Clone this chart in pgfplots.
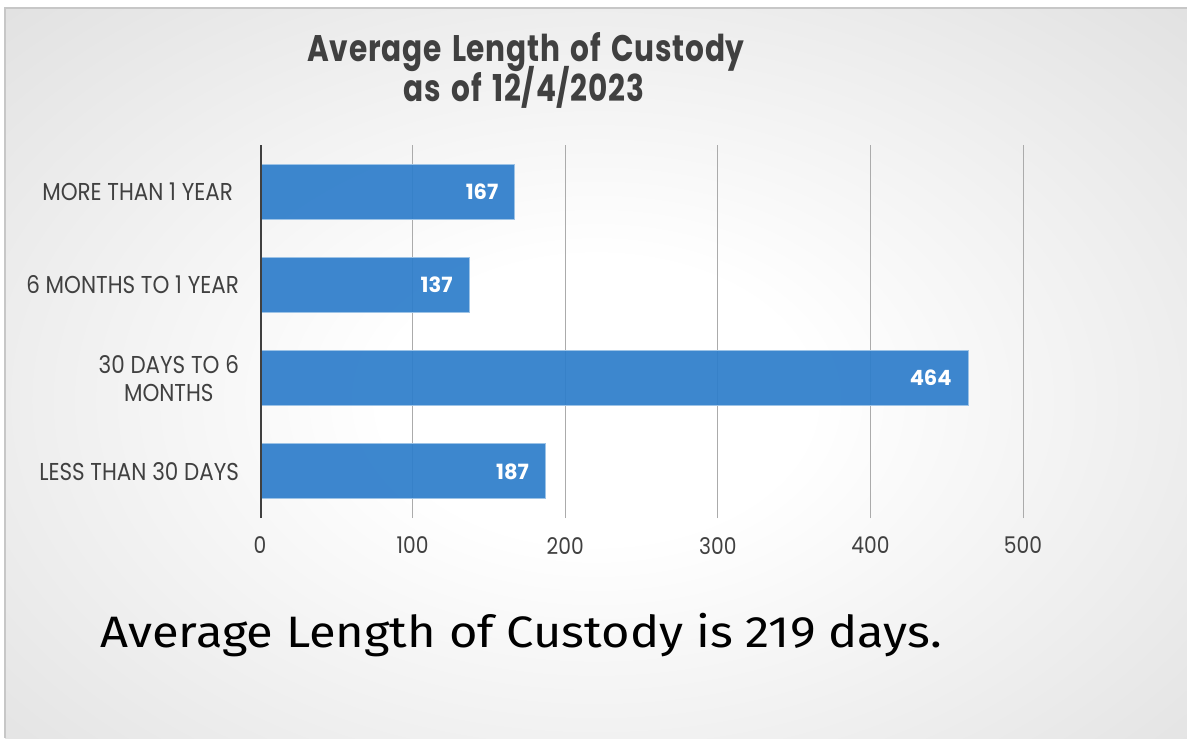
\documentclass[border=0pt]{standalone}
\usepackage{fontspec}
\setmainfont{Poppins}
\newfontfamily\twfont[FakeStretch=0.88]{Poppins}
\newfontfamily\titlefont[FakeStretch=0.8, LetterSpace=2, WordSpace=1.5]{Poppins}
\newfontfamily\notefont[FakeStretch=1.11]{Fira Sans}
\usepackage{pgfplots}
\pgfplotsset{compat=1.18}

\definecolor{barblue}{HTML}{2F7ECB}
\definecolor{baredge}{HTML}{9DC3E6}
\definecolor{txtgray}{HTML}{404040}
\definecolor{gridgray}{HTML}{ABABAB}
\pgfdeclareradialshading{panelbg}{\pgfpoint{0bp}{0bp}}{color(0bp)=(white); color(9bp)=(white); color(71bp)=(black!27)}

\begin{document}
\begin{tikzpicture}
% page and slide background
\path[use as bounding box, fill=white] (0pt,0pt) rectangle (593.5pt,-369pt);
\begin{scope}
  \clip (2.5pt,-4pt) rectangle (593.5pt,-369pt);
  \shade[shading=panelbg] (2.5pt,-4pt) rectangle (593.5pt,-396pt);
\end{scope}
\draw[black!22, line width=0.6pt] (2.5pt,-369pt) -- (2.5pt,-4pt) -- (593.5pt,-4pt);

\begin{axis}[
  at={(130pt,-259pt)}, anchor=south west,
  scale only axis, width=381.5pt, height=186.5pt,
  xbar, bar width=27.5pt,
  xmin=0, xmax=500, ymin=-0.5, ymax=3.5,
  xtick={0,100,...,500},
  ytick={0,1,2,3},
  yticklabels={LESS THAN 30 DAYS, {30 DAYS TO 6\\MONTHS}, 6 MONTHS TO 1 YEAR, {MORE THAN 1 YEAR\hspace*{3pt}}},
  yticklabel style={align=center, xshift=-7pt, text=txtgray,
    font=\twfont\fontsize{12.2}{14}\selectfont},
  xticklabel style={yshift=-6pt, text=txtgray,
    font=\twfont\fontsize{11.5}{13}\selectfont},
  /pgf/number format/assume math mode=true,
  major tick length=0pt,
  axis line style={draw=none},
  xmajorgrids, grid style={gridgray, line width=0.5pt},
  nodes near coords,
  every node near coord/.append style={anchor=east, xshift=-8pt, inner sep=0pt,
    text=white, font=\bfseries\fontsize{10.5}{12}\selectfont},
]
\addplot[fill=barblue, fill opacity=0.93, draw=baredge, line width=0.5pt,
  text opacity=1]
  coordinates {(187,0) (464,1) (137,2) (167,3)};
\draw[txtgray, line width=1.8pt] (axis cs:0,-0.5) -- (axis cs:0,3.5);
\end{axis}

% titles
\node[anchor=base, inner sep=0, text=txtgray,
  font=\titlefont\bfseries\fontsize{18.5}{20}\selectfont] at (263pt,-30.75pt) {Average Length of Custody};
\node[anchor=base, inner sep=0, text=txtgray,
  font=\titlefont\bfseries\fontsize{18.5}{20}\selectfont] at (262pt,-50.75pt) {as of 12/4/2023};

% note under the chart
\node[anchor=base west, inner sep=0, text=black,
  font=\notefont\fontsize{22}{25}\selectfont] at (50pt,-323.5pt) {Average Length of Custody is 219 days.};
\end{tikzpicture}
\end{document}
